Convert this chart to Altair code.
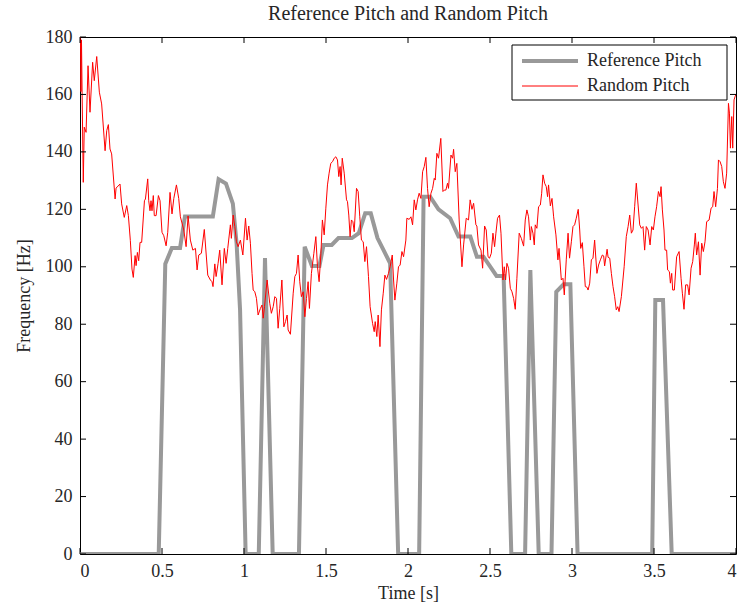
import altair as alt
import pandas as pd

# Reference pitch contour (s, Hz); zero where the frame is unvoiced
ref_time = [0, 0.48, 0.52, 0.56, 0.61, 0.64, 0.81, 0.845, 0.89, 0.932, 0.955, 0.976,
            1.01, 1.09, 1.128, 1.175, 1.335, 1.37, 1.414, 1.46, 1.485, 1.535, 1.576,
            1.658, 1.70, 1.739, 1.773, 1.814, 1.851, 1.891, 1.94, 2.068, 2.095, 2.135,
            2.186, 2.257, 2.308, 2.38, 2.42, 2.46, 2.54, 2.583, 2.63, 2.714, 2.746,
            2.797, 2.875, 2.904, 2.949, 2.99, 3.034, 3.489, 3.508, 3.555, 3.608, 4.0]
ref_freq = [0, 0, 101, 106.5, 106.5, 117.5, 117.5, 130.5, 129, 122, 108, 85,
            0, 0, 103, 0, 0, 107, 100.3, 100.3, 107.6, 107.6, 110,
            110, 111.7, 118.6, 118.6, 110, 105.8, 101.2, 0, 0, 124.4, 124.4,
            120, 116.9, 110.5, 110.5, 103.5, 103.5, 96.8, 96.8, 0, 0, 98.9,
            0, 0, 91.3, 93.9, 93.9, 0, 0, 88.4, 88.4, 0, 0]

# Random pitch track (s, Hz)
rand_time = [
    0.000, 0.003, 0.006, 0.009, 0.013, 0.020, 0.026, 0.037, 0.049, 0.061, 0.077, 0.087,
    0.102, 0.118, 0.132, 0.153, 0.163, 0.173, 0.183, 0.193, 0.214, 0.220, 0.244, 0.254,
    0.270, 0.285, 0.295, 0.307, 0.317, 0.325, 0.336, 0.342, 0.350, 0.358, 0.366, 0.376,
    0.393, 0.399, 0.413, 0.419, 0.427, 0.433, 0.439, 0.447, 0.453, 0.464, 0.478, 0.488,
    0.500, 0.511, 0.525, 0.535, 0.549, 0.561, 0.572, 0.588, 0.602, 0.612, 0.633, 0.647,
    0.659, 0.673, 0.688, 0.704, 0.714, 0.724, 0.740, 0.758, 0.779, 0.795, 0.805, 0.811,
    0.822, 0.830, 0.842, 0.852, 0.866, 0.880, 0.891, 0.901, 0.917, 0.923, 0.934, 0.944,
    0.954, 0.964, 0.978, 0.993, 1.009, 1.019, 1.029, 1.039, 1.049, 1.056, 1.066, 1.076,
    1.086, 1.100, 1.110, 1.117, 1.125, 1.141, 1.157, 1.167, 1.178, 1.188, 1.198, 1.208,
    1.218, 1.231, 1.243, 1.253, 1.263, 1.269, 1.283, 1.300, 1.310, 1.320, 1.330, 1.340,
    1.350, 1.361, 1.371, 1.381, 1.391, 1.399, 1.411, 1.426, 1.438, 1.448, 1.458, 1.469,
    1.478, 1.489, 1.499, 1.509, 1.519, 1.529, 1.540, 1.550, 1.560, 1.570, 1.578, 1.586,
    1.592, 1.599, 1.611, 1.625, 1.631, 1.639, 1.647, 1.655, 1.664, 1.672, 1.686, 1.696,
    1.706, 1.716, 1.727, 1.737, 1.747, 1.759, 1.769, 1.784, 1.794, 1.800, 1.810, 1.818,
    1.829, 1.838, 1.849, 1.859, 1.869, 1.881, 1.891, 1.904, 1.912, 1.920, 1.932, 1.942,
    1.952, 1.963, 1.973, 1.987, 1.993, 2.007, 2.018, 2.028, 2.038, 2.048, 2.058, 2.068,
    2.079, 2.089, 2.099, 2.109, 2.119, 2.129, 2.140, 2.150, 2.160, 2.166, 2.176, 2.186,
    2.200, 2.213, 2.221, 2.231, 2.241, 2.247, 2.262, 2.272, 2.278, 2.288, 2.298, 2.312,
    2.329, 2.339, 2.355, 2.369, 2.379, 2.390, 2.400, 2.414, 2.420, 2.430, 2.445, 2.455,
    2.467, 2.477, 2.488, 2.497, 2.508, 2.518, 2.528, 2.536, 2.546, 2.558, 2.567, 2.579,
    2.587, 2.595, 2.603, 2.613, 2.624, 2.634, 2.644, 2.654, 2.664, 2.678, 2.691, 2.705,
    2.715, 2.725, 2.735, 2.746, 2.752, 2.762, 2.770, 2.776, 2.786, 2.796, 2.807, 2.815,
    2.823, 2.833, 2.843, 2.851, 2.857, 2.868, 2.878, 2.888, 2.902, 2.914, 2.921, 2.935,
    2.945, 2.953, 2.965, 2.976, 2.985, 2.996, 3.006, 3.016, 3.026, 3.038, 3.047, 3.053,
    3.063, 3.073, 3.081, 3.091, 3.098, 3.108, 3.118, 3.128, 3.138, 3.144, 3.152, 3.162,
    3.173, 3.185, 3.193, 3.199, 3.214, 3.220, 3.230, 3.240, 3.250, 3.260, 3.270, 3.279,
    3.287, 3.301, 3.318, 3.331, 3.342, 3.352, 3.362, 3.372, 3.382, 3.392, 3.403, 3.413,
    3.423, 3.433, 3.443, 3.453, 3.464, 3.476, 3.486, 3.496, 3.506, 3.516, 3.527, 3.537,
    3.543, 3.551, 3.561, 3.567, 3.577, 3.583, 3.594, 3.600, 3.608, 3.614, 3.624, 3.638,
    3.653, 3.665, 3.673, 3.683, 3.693, 3.705, 3.714, 3.726, 3.736, 3.746, 3.752, 3.760,
    3.771, 3.781, 3.791, 3.801, 3.811, 3.821, 3.836, 3.848, 3.858, 3.866, 3.876, 3.887,
    3.893, 3.903, 3.913, 3.923, 3.933, 3.943, 3.954, 3.960, 3.966, 3.974, 3.980, 3.988,
    3.994, 4.000]
rand_freq = [
    176, 180, 161, 179, 160, 129.4, 148.6, 146.8, 170, 153.8, 171.2, 164.8,
    173.2, 160.8, 156.7, 140.4, 147.4, 149.5, 141, 139.3, 123.6, 127.4, 128.8, 121.9,
    117.2, 121.3, 117.8, 109.1, 99.2, 96.3, 103.9, 100.4, 105, 102.1, 108.5, 108.5,
    123, 123.6, 130.6, 123, 119.5, 123, 119.5, 124.8, 117.8, 117.8, 124.8, 123,
    112, 110.8, 107.3, 112, 125.9, 118.4, 123.8, 128.5, 123.8, 117.4, 112.8, 107,
    117.7, 109.3, 105.8, 106.4, 98.9, 104.1, 104.7, 113, 97.1, 95.4, 94.8, 93.1,
    101, 96.6, 101.2, 105.8, 93.7, 106.4, 101.2, 106.4, 114.6, 109.9, 118, 114,
    108.7, 107, 109.3, 104.1, 116.9, 109.3, 114.2, 108.2, 97.7, 91.9, 91.3, 89,
    83.2, 85.5, 86.7, 82.1, 86.1, 95.4, 87.3, 83.8, 86.1, 89.6, 89, 78.6,
    85.5, 95.4, 79.1, 80.9, 83.2, 78, 76.5, 90.8, 96.6, 97.7, 104.1, 94.8,
    89.6, 91.3, 82.6, 89, 94.8, 85.5, 97.7, 104.7, 110.5, 100, 94.8, 104.7,
    116.3, 111.1, 120.4, 128.5, 132.6, 136, 136.6, 137.8, 138.3, 137.2, 131.4, 134.9,
    128.5, 137.8, 132.6, 123.3, 122.7, 118, 110.5, 116.3, 115.7, 112.2, 127.3, 126.2,
    117.4, 109.3, 108.7, 101.8, 107, 96.6, 86.1, 80.3, 77.4, 80.9, 75.7, 83.2,
    72.2, 85, 90.8, 97.1, 95.6, 97.7, 100, 104.1, 95.4, 88.4, 94.3, 100,
    100.6, 105.3, 103.5, 109.3, 116.9, 116.5, 117.4, 114.6, 123.3, 119.8, 123.3, 125.6,
    123.8, 133.1, 134.9, 138.1, 127.3, 120.9, 125.6, 127.3, 130.8, 130.2, 139.5, 137.8,
    144.7, 126.2, 126.7, 126.7, 129.1, 127.3, 138.9, 137.8, 140.9, 133.1, 136, 116.3,
    100, 107.6, 116.9, 116.3, 123.3, 120, 122.1, 114.6, 114.2, 107.6, 105.8, 99.5,
    114.2, 112.8, 103.5, 103, 104.7, 111.7, 107, 111.7, 116.9, 118, 111.7, 95.4,
    100, 95.4, 101.2, 99.5, 92.5, 91.3, 89, 85.2, 96, 111.7, 109.9, 107.2,
    116.3, 119.8, 117.4, 109.3, 114, 111.7, 107.6, 114.6, 113.4, 120.9, 121.5, 125.6,
    132, 129.1, 127.9, 124.4, 128.5, 121.2, 123.8, 117.4, 111.1, 102.4, 106.4, 95.4,
    96, 90.2, 102.4, 111.7, 103, 108.7, 114, 114.6, 116.9, 120, 112.8, 106.4,
    108.4, 100, 93.1, 92.9, 91.9, 94.3, 102.4, 103, 109.3, 104.1, 97.7, 100.6,
    102.4, 104.1, 103.8, 100.3, 106.1, 103.3, 103, 97.7, 93.1, 89.6, 85, 86.1,
    84.4, 89.6, 100, 110.5, 114, 118, 111.7, 112.8, 120.9, 129.1, 121.5, 114.6,
    113.4, 114, 105.8, 114, 112.8, 107.6, 114, 112.8, 117.4, 120.9, 126.2, 124.4,
    127.9, 119.8, 112.8, 105.8, 105.8, 98.9, 98.3, 94.3, 97.7, 91.9, 91.9, 103.5,
    105.3, 96, 90.8, 85.2, 93.7, 93.7, 90.2, 99.5, 101.8, 107.6, 111.7, 104.1,
    108.7, 97.1, 108.2, 105.3, 108.7, 115.7, 116.3, 120.4, 120.9, 126.2, 120.9, 127.3,
    137.2, 136.6, 134.9, 129.6, 127.3, 132.6, 156.9, 153.5, 141.3, 152.3, 141.3, 158.1,
    159.2, 160]

x_ticks = [0, 0.5, 1, 1.5, 2, 2.5, 3, 3.5, 4]
y_ticks = [0, 20, 40, 60, 80, 100, 120, 140, 160, 180]

series_names = ["Reference Pitch", "Random Pitch"]
series_colors = ["#999999", "#ff0000"]
series_widths = [4.0, 1.0]

W, H = 656, 517
TICK = 6
SERIF = "Liberation Serif"
INK = "#262626"
FS = 18

ref_df = pd.DataFrame({"t": ref_time, "f": ref_freq, "series": series_names[0]})
rand_df = pd.DataFrame({"t": rand_time, "f": rand_freq, "series": series_names[1]})
xt_df = pd.DataFrame({"v": x_ticks})
yt_df = pd.DataFrame({"v": y_ticks})

x_scale = alt.Scale(domain=[0, 4], nice=False, zero=False)
y_scale = alt.Scale(domain=[0, 180], nice=False)
color_scale = alt.Scale(domain=series_names, range=series_colors)
width_scale = alt.Scale(domain=series_names, range=series_widths)

x_axis = alt.Axis(values=x_ticks, labelExpr="'' + datum.value", ticks=False, domain=False,
                  grid=False, labelPadding=8, titlePadding=4, title="Time [s]")
y_axis = alt.Axis(values=y_ticks, format="d", ticks=False, domain=False, grid=False,
                  labelPadding=8, titlePadding=12, title="Frequency [Hz]")


def track(df):
    return alt.Chart(df).mark_line(clip=True).encode(
        x=alt.X("t:Q", scale=x_scale, axis=x_axis),
        y=alt.Y("f:Q", scale=y_scale, axis=y_axis),
        color=alt.Color("series:N", scale=color_scale, legend=None),
        strokeWidth=alt.StrokeWidth("series:N", scale=width_scale, legend=None),
        order="t:Q",
    )


# inward tick marks on all four sides of the frame
tick_style = dict(color="#000000", strokeWidth=1)
ticks_bottom = alt.Chart(xt_df).mark_rule(**tick_style).encode(
    x=alt.X("v:Q", scale=x_scale), y=alt.value(H), y2=alt.value(H - TICK))
ticks_top = alt.Chart(xt_df).mark_rule(**tick_style).encode(
    x=alt.X("v:Q", scale=x_scale), y=alt.value(0), y2=alt.value(TICK))
ticks_left = alt.Chart(yt_df).mark_rule(**tick_style).encode(
    y=alt.Y("v:Q", scale=y_scale), x=alt.value(0), x2=alt.value(TICK))
ticks_right = alt.Chart(yt_df).mark_rule(**tick_style).encode(
    y=alt.Y("v:Q", scale=y_scale), x=alt.value(W), x2=alt.value(W - TICK))

# boxed legend in the upper-right corner of the axes
LX0, LX1, LY0, LY1 = 432, 647, 8, 63
ROW_Y = [24, 49]
legend_box = alt.Chart(pd.DataFrame({"k": [0]})).mark_rect(
    fill="#ffffff", stroke="#000000", strokeWidth=1
).encode(x=alt.value(LX0), x2=alt.value(LX1), y=alt.value(LY0), y2=alt.value(LY1))

legend_layers = [legend_box]
for name, row_y in zip(series_names, ROW_Y):
    entry = pd.DataFrame({"series": [name]})
    legend_layers.append(
        alt.Chart(entry).mark_rule().encode(
            x=alt.value(442), x2=alt.value(498), y=alt.value(row_y),
            color=alt.Color("series:N", scale=color_scale, legend=None),
            strokeWidth=alt.StrokeWidth("series:N", scale=width_scale, legend=None),
        )
    )
    legend_layers.append(
        alt.Chart(entry).mark_text(
            align="left", baseline="middle", font=SERIF, fontSize=FS, color=INK
        ).encode(x=alt.value(507), y=alt.value(row_y), text="series:N")
    )

chart = alt.layer(
    track(ref_df), track(rand_df), ticks_bottom, ticks_top, ticks_left, ticks_right,
    *legend_layers
).properties(
    width=W, height=H,
    title=alt.TitleParams("Reference Pitch and Random Pitch", font=SERIF, fontSize=20,
                          fontWeight="normal", color=INK, anchor="middle", offset=4),
    autosize=alt.AutoSizeParams(type="none"),
    padding={"left": 80, "top": 37, "right": 2, "bottom": 56},
    background="#ffffff",
).configure_view(
    stroke="#000000", strokeWidth=1,
).configure_axis(
    labelFont=SERIF, labelFontSize=FS, labelColor=INK,
    titleFont=SERIF, titleFontSize=FS, titleColor=INK, titleFontWeight="normal",
)

chart.save("out.html", embed_options={"renderer": "svg", "actions": False})
